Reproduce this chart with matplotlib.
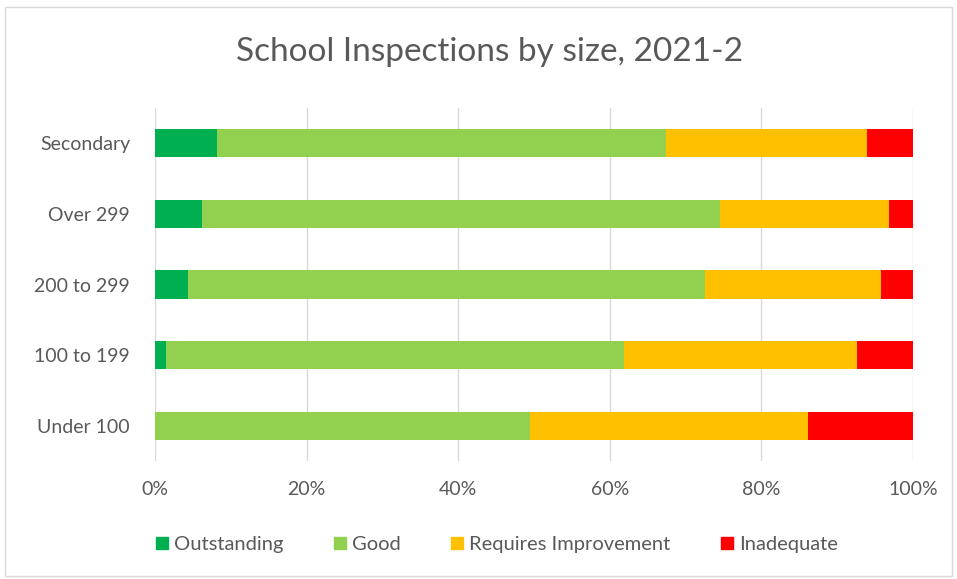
import matplotlib.pyplot as plt
from matplotlib.patches import Rectangle
from matplotlib.ticker import PercentFormatter

plt.rcParams['font.family'] = ['Lato', 'DejaVu Sans']

categories = ["Under 100", "100 to 199", "200 to 299", "Over 299", "Secondary"]
outstanding = [0.0, 1.4, 4.3, 6.2, 8.2]
good = [49.5, 60.5, 68.2, 68.4, 59.2]
requires_improvement = [36.7, 30.7, 23.3, 22.2, 26.5]
inadequate = [13.8, 7.4, 4.2, 3.2, 6.1]

series = [
    ("Outstanding", outstanding, "#00b050"),
    ("Good", good, "#92d050"),
    ("Requires Improvement", requires_improvement, "#ffc000"),
    ("Inadequate", inadequate, "#ff0000"),
]

text_col = "#595959"

fig = plt.figure(figsize=(9.57, 5.79), dpi=100)
ax = fig.add_axes([0.162, 0.203, 0.792, 0.611])

left = [0.0] * len(categories)
handles = []
for name, vals, col in series:
    ax.barh(categories, vals, left=left, height=0.4, color=col, zorder=3)
    left = [a + b for a, b in zip(left, vals)]
    handles.append(plt.Line2D([], [], marker="s", linestyle="", markersize=9,
                              color=col, label=name))

ax.set_xlim(0, 100)
ax.set_ylim(-0.5, 4.5)
ax.set_xticks(range(0, 101, 20))
ax.xaxis.set_major_formatter(PercentFormatter(decimals=0))
ax.grid(axis="x", color="#d9d9d9", linewidth=1, zorder=0)
for s in ax.spines.values():
    s.set_visible(False)
ax.tick_params(length=0, labelsize=14, colors=text_col, pad=14)
ax.tick_params(axis="y", pad=18)

fig.text(0.512, 0.91, "School Inspections by size, 2021-2", ha="center",
         va="center", fontsize=24, color=text_col)

fig.legend(handles=handles, loc="center", bbox_to_anchor=(0.517, 0.059),
           ncol=4, frameon=False, fontsize=14.5, labelcolor=text_col,
           handletextpad=0.1, columnspacing=2.3, handlelength=1.0)

fig.patches.append(Rectangle((0.005, 0.005), 0.99, 0.983, transform=fig.transFigure,
                             fill=False, edgecolor="#d9d9d9", linewidth=1))

fig.savefig("out.png", dpi=100)
